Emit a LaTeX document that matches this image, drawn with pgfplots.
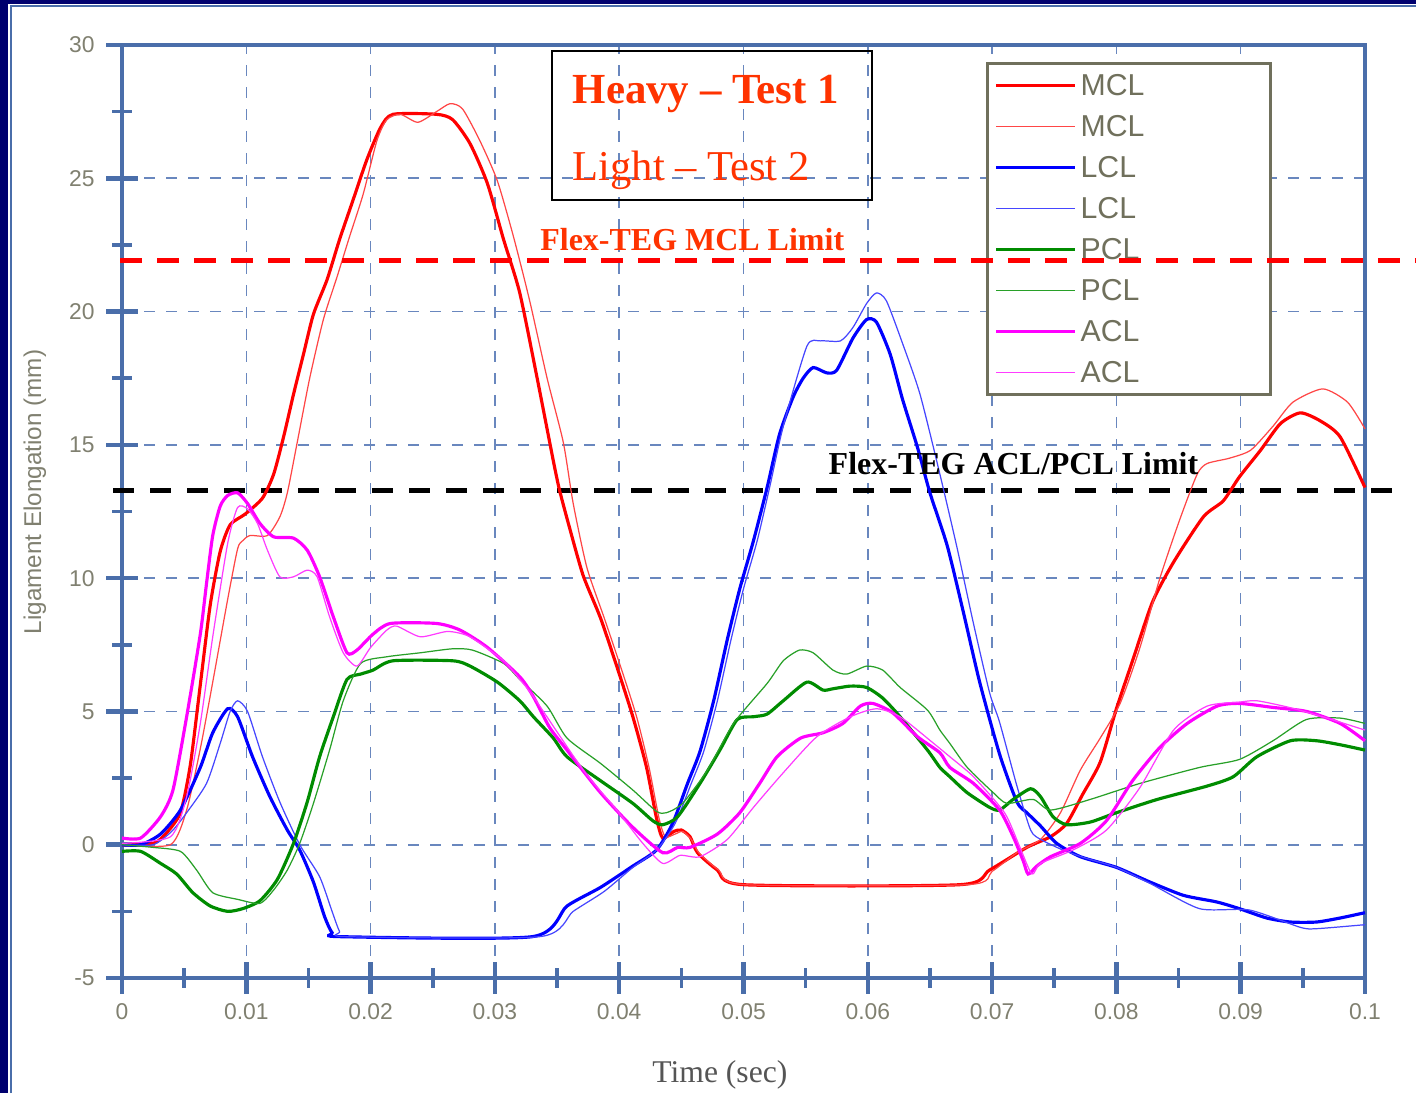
\documentclass[border=0pt]{standalone}
\usepackage{fontspec}
\setmainfont{Liberation Serif}
\newfontfamily\arial{Liberation Sans}
\usepackage{pgfplots}
\pgfplotsset{compat=1.18}
\definecolor{axisblue}{RGB}{74,110,170}
\definecolor{gridblue}{RGB}{105,135,190}
\definecolor{tickgray}{RGB}{128,128,112}
\definecolor{legendgray}{RGB}{112,112,92}
\definecolor{navy}{RGB}{0,0,110}
\definecolor{hlred}{RGB}{255,51,0}
\definecolor{mclA}{RGB}{255,0,0}
\definecolor{mclB}{RGB}{255,70,70}
\definecolor{lclA}{RGB}{0,0,255}
\definecolor{lclB}{RGB}{70,70,255}
\definecolor{pclA}{RGB}{0,140,0}
\definecolor{pclB}{RGB}{40,160,40}
\definecolor{aclA}{RGB}{255,0,255}
\definecolor{aclB}{RGB}{255,60,255}
\pgfplotsset{
  common/.style={
    width=12.43cm, height=9.33cm, scale only axis,
    at={(1.22cm,1.15cm)}, anchor=south west,
    xmin=0, xmax=100, ymin=-5, ymax=30,
  },
  thick line/.style={line width=0.9pt, smooth, tension=0.4},
  thin line/.style={line width=0.35pt, smooth, tension=0.4},
}
\begin{document}
\begin{tikzpicture}
\useasboundingbox (0,0) rectangle (14.16cm,10.93cm);
\begin{axis}[common,
  clip=false,
  xtick={0,10,20,30,40,50,60,70,80,90,100},
  xticklabels={0,0.01,0.02,0.03,0.04,0.05,0.06,0.07,0.08,0.09,0.1},
  ytick={-5,0,5,10,15,20,25,30},
  yticklabels={-5,0,5,10,15,20,25,30},
  minor x tick num=1, minor y tick num=1,
  tick align=center, tick pos=left,
  major tick length=0.32cm, minor tick length=0.2cm,
  tick style={axisblue},
  major tick style={line width=1.3pt},
  minor tick style={line width=1.0pt},
  axis line style={axisblue, line width=1.2pt},
  grid=major,
  major grid style={gridblue, line width=0.45pt, dash pattern=on 0.105cm off 0.115cm},
  ticklabel style={font=\fontsize{6.5}{7}\arial, text=tickgray},
  xticklabel style={yshift=0.03cm},
  yticklabel style={xshift=0.01cm},
  xlabel={Time (sec)},
  xlabel style={at={(axis description cs:0.481,-0.1035)}, anchor=center, font=\fontsize{9}{10}\selectfont, text={rgb,255:red,85;green,85;blue,85}},
  ylabel={Ligament Elongation (mm)},
  ylabel style={at={(axis description cs:-0.070,0.521)}, anchor=center, font=\fontsize{6.9}{8}\arial, text=tickgray},
  legend cell align=left,
  legend image code/.code={\draw[#1] (0cm,0cm) -- (0.79cm,0cm);},
  legend style={at={(axis cs:69.51,29.36)}, anchor=north west,
    draw=legendgray, line width=0.85pt, fill=white,
    inner xsep=0.07cm, inner ysep=0.07cm, row sep=0.11cm, column sep=0.04cm,
    font=\fontsize{8.6}{9}\arial, text=legendgray,
    nodes={inner sep=0pt, text height=0.25cm, text depth=0.05cm, text width=1.83cm, align=left}},
]
% limit line (ACL/PCL)
\addplot[forget plot, black, line width=1.4pt, dash pattern=on 0.21cm off 0.16cm] coordinates {(-0.7,13.3) (102.8,13.3)};

% MCL heavy
\addplot[mclA, thick line] coordinates {
(0,0) (2.5,0.05) (3.5,0.4) (4.7,1.2) (5.5,3.0) (6.3,6.0) (7.1,9.0) (7.9,11.0) (8.7,12.0) (9.9,12.4) (11.3,13.0) (12.2,13.9) (13.0,15.3) (13.8,16.9) (14.6,18.4) (15.4,19.9) (16.5,21.2) (17.5,22.7) (18.6,24.2) (19.7,25.7) (20.8,26.9) (21.8,27.4) (25.3,27.4) (26.6,27.2) (28.0,26.3) (29.4,24.8) (30.7,22.7) (32.0,20.7) (33.4,17.5) (34.7,14.4) (35.2,13.3) (36.0,11.9) (37.1,10.1) (38.5,8.5) (39.8,6.7) (41.1,4.8) (42.2,2.9) (43.0,1.0) (43.5,0.25) (44.4,0.5) (45.0,0.55) (45.7,0.3) (46.3,-0.3) (47.9,-0.95) (50.0,-1.5) (67.4,-1.5) (69.8,-0.95) (72.8,-0.1) (74.7,0.3) (76.0,0.8) (77.3,1.9) (78.7,3.1) (80.0,5.1) (81.3,6.9) (82.9,9.1) (84.6,10.6) (87.0,12.3) (88.6,12.9) (89.9,13.8) (91.6,14.8) (93.2,15.8) (94.8,16.2) (96.4,15.9) (98.0,15.3) (100,13.4)};
\addlegendentry{MCL}
% MCL light
\addplot[mclB, thin line] coordinates {
(0,0) (3.9,0) (5.2,1.3) (6.3,3.6) (7.3,6.1) (8.5,9.2) (9.3,11.1) (9.7,11.4) (10.3,11.6) (11.7,11.6) (12.7,12.3) (13.3,13.2) (14.1,15.1) (15.1,17.5) (16.2,19.7) (17.3,21.3) (18.3,22.8) (19.4,24.4) (20.5,26.4) (21.3,27.2) (22.4,27.4) (23.8,27.1) (25.3,27.5) (26.4,27.8) (27.4,27.6) (28.8,26.4) (30.2,24.9) (31.5,22.8) (32.8,20.4) (34.2,17.5) (35.5,15.1) (36.3,12.8) (37.4,10.4) (38.8,8.5) (40.1,6.7) (41.4,4.8) (42.4,2.9) (43.2,1.0) (43.7,0.3) (44.5,0.4) (45.1,0.5) (45.8,0.2) (46.4,-0.3) (48.0,-0.95) (50.1,-1.5) (68.0,-1.5) (70.0,-1.0) (72.0,-0.3) (73.9,0.2) (75.5,1.2) (77.1,2.8) (78.7,4.0) (80.3,5.3) (81.9,7.4) (83.5,10.0) (85.1,12.2) (86.5,13.9) (87.3,14.3) (89.1,14.5) (90.8,14.8) (92.6,15.7) (94.2,16.6) (96.6,17.1) (98.6,16.6) (100,15.6)};
\addlegendentry{MCL}
% LCL heavy
\addplot[lclA, thick line] coordinates {
(0,0) (1.5,0) (3.1,0.4) (4.7,1.3) (6.3,2.9) (7.3,4.2) (8.5,5.1) (9.3,4.8) (10.5,3.3) (11.9,1.8) (13.3,0.55) (14.3,-0.2) (15.4,-1.4) (16.3,-2.7) (16.9,-3.3) (17.6,-3.45) (33.0,-3.45) (35.8,-2.3) (38.5,-1.6) (41.1,-0.8) (43.0,-0.2) (44.3,0.8) (45.5,2.3) (46.5,3.5) (47.6,5.4) (48.7,7.7) (49.7,9.6) (50.8,11.4) (51.9,13.4) (52.9,15.4) (54.0,16.8) (54.8,17.5) (55.6,17.9) (56.7,17.7) (57.5,17.8) (58.8,19.0) (59.9,19.7) (60.7,19.6) (61.8,18.4) (62.8,16.7) (64.0,14.9) (65.0,13.2) (66.4,11.2) (67.7,8.7) (69.0,6.1) (70.6,3.4) (72.0,1.6) (72.8,1.2) (73.9,0.7) (75.2,0.05) (77.1,-0.45) (80.0,-0.85) (82.7,-1.4) (85.4,-1.9) (88.1,-2.15) (89.9,-2.4) (92.1,-2.75) (94.0,-2.9) (96.1,-2.9) (98.0,-2.75) (100,-2.55)};
\addlegendentry{LCL}
% LCL light
\addplot[lclB, thin line] coordinates {
(0,0) (2.5,0) (4.0,0.5) (5.2,1.2) (6.8,2.3) (7.9,3.8) (8.7,5.0) (9.3,5.4) (10.1,5.0) (11.3,3.3) (12.7,1.6) (14.3,0) (15.9,-1.2) (16.9,-2.5) (17.5,-3.25) (18.1,-3.45) (33.6,-3.45) (36.3,-2.5) (38.8,-1.75) (41.1,-0.85) (43.0,-0.2) (44.5,0.8) (45.8,2.3) (46.8,3.5) (47.9,5.4) (49.0,7.7) (50.0,9.6) (51.1,11.4) (52.1,13.4) (53.2,15.7) (55.1,18.7) (56.2,18.9) (57.8,18.9) (58.8,19.4) (59.9,20.3) (60.7,20.7) (61.5,20.4) (62.8,18.8) (64.2,16.9) (65.8,13.9) (67.2,11.1) (68.5,8.3) (69.8,5.7) (70.6,4.6) (72.0,2.2) (73.1,0.55) (73.9,0.2) (75.7,-0.2) (77.5,-0.5) (80.0,-0.85) (82.7,-1.45) (86.7,-2.4) (90.7,-2.45) (94.8,-3.1) (96.1,-3.15) (100,-3.0)};
\addlegendentry{LCL}
% PCL heavy
\addplot[pclA, thick line] coordinates {
(0,-0.25) (1.5,-0.25) (3.1,-0.7) (4.4,-1.1) (5.7,-1.8) (7.1,-2.3) (8.5,-2.5) (9.7,-2.4) (11.1,-2.1) (12.5,-1.3) (13.8,0.05) (14.9,1.6) (15.9,3.3) (17.0,4.8) (18.1,6.2) (19.2,6.4) (20.2,6.55) (21.8,6.9) (26.6,6.9) (28.0,6.7) (30.2,6.1) (32.0,5.4) (33.1,4.8) (34.7,4.0) (35.8,3.3) (38.5,2.4) (41.1,1.55) (42.7,0.9) (43.5,0.75) (44.7,1.05) (46.5,2.3) (48.1,3.55) (49.5,4.7) (50.8,4.8) (51.9,4.9) (53.2,5.4) (55.1,6.1) (56.4,5.8) (57.2,5.85) (58.6,5.95) (59.9,5.9) (61.2,5.5) (62.6,4.8) (64.8,3.55) (65.8,2.9) (66.6,2.55) (68.0,1.95) (69.8,1.4) (70.6,1.3) (71.7,1.7) (73.1,2.1) (73.9,1.8) (74.9,1.05) (76.0,0.75) (77.9,0.85) (80.0,1.2) (83.3,1.7) (87.3,2.2) (89.4,2.55) (91.3,3.3) (94.0,3.9) (96.1,3.9) (98.0,3.75) (100,3.55)};
\addlegendentry{PCL}
% PCL light
\addplot[pclB, thin line] coordinates {
(0,0) (2.5,-0.1) (4.7,-0.25) (6.0,-0.95) (7.3,-1.8) (9.3,-2.05) (11.1,-2.2) (12.2,-1.7) (13.3,-0.95) (14.3,0.05) (15.4,1.55) (16.7,3.55) (17.8,5.4) (19.2,6.8) (21.3,7.05) (24.0,7.2) (26.6,7.35) (28.2,7.3) (30.7,6.8) (32.0,6.2) (34.2,5.2) (35.8,4.0) (38.5,3.05) (41.1,2.05) (43.0,1.25) (43.8,1.2) (45.1,1.55) (47.1,2.8) (49.2,4.55) (51.9,6.05) (53.2,6.9) (54.5,7.3) (55.6,7.2) (57.2,6.55) (58.3,6.4) (59.9,6.7) (61.2,6.55) (62.6,5.9) (64.8,5.05) (65.8,4.3) (66.6,3.8) (68.0,2.9) (70.1,1.95) (71.2,1.55) (73.3,1.7) (74.7,1.3) (77.9,1.7) (81.9,2.3) (86.7,2.9) (89.9,3.2) (92.6,3.9) (95.3,4.7) (98.0,4.75) (100,4.55)};
\addlegendentry{PCL}
% ACL heavy
\addplot[aclA, thick line] coordinates {
(0,0.25) (1.5,0.25) (3.1,1.05) (4.1,2.05) (5.2,4.8) (6.3,7.9) (6.8,9.8) (7.3,11.6) (7.9,12.7) (8.5,13.1) (9.3,13.2) (10.1,12.8) (11.1,12.05) (12.2,11.55) (13.8,11.5) (14.9,11.05) (15.9,10.05) (17.0,8.55) (18.1,7.2) (18.9,7.3) (20.2,7.9) (21.6,8.3) (25.3,8.3) (27.2,8.05) (29.4,7.4) (32.0,6.3) (33.1,5.55) (34.4,4.4) (35.8,3.55) (38.5,1.95) (41.1,0.65) (43.5,-0.3) (44.7,-0.1) (45.7,-0.1) (47.9,0.4) (49.7,1.2) (51.3,2.3) (52.7,3.3) (54.6,4.0) (56.4,4.2) (58.0,4.55) (59.4,5.2) (60.4,5.3) (62.0,4.95) (64.0,4.05) (65.8,3.45) (66.6,2.9) (68.5,2.3) (70.6,1.3) (71.7,0.3) (72.5,-0.6) (72.9,-1.1) (73.6,-0.8) (74.7,-0.45) (77.1,0.05) (79.2,0.9) (81.3,2.4) (83.5,3.65) (85.7,4.55) (88.1,5.2) (89.9,5.3) (92.6,5.15) (95.3,5.0) (98.0,4.55) (100,3.9)};
\addlegendentry{ACL}
% ACL light
\addplot[aclB, thin line] coordinates {
(0,0.05) (3.9,0.3) (5.2,1.8) (6.3,4.55) (7.3,7.8) (8.5,11.3) (9.3,12.65) (10.1,12.6) (10.9,12.05) (11.7,11.05) (12.7,10.05) (13.8,10.05) (14.9,10.3) (15.7,10.05) (16.7,8.55) (17.8,7.2) (18.9,6.7) (20.0,7.4) (21.3,8.05) (22.1,8.2) (24.0,7.8) (26.2,8.0) (28.0,7.8) (30.7,6.9) (32.0,6.2) (33.1,5.55) (37.1,2.8) (39.8,1.3) (41.9,0.05) (43.5,-0.7) (44.9,-0.4) (46.5,-0.45) (48.7,0.2) (50.8,1.4) (53.2,2.7) (55.9,4.05) (58.6,4.8) (60.7,5.1) (62.6,4.8) (65.3,3.8) (66.6,3.3) (68.5,2.55) (71.0,1.2) (72.2,-0.05) (73.2,-1.1) (73.9,-0.7) (76.5,-0.2) (79.2,0.55) (81.9,2.15) (84.6,4.3) (87.3,5.2) (89.9,5.35) (91.3,5.4) (93.9,5.15) (96.6,4.8) (100,4.3)};
\addlegendentry{ACL}

% annotations
\draw[black, line width=0.6pt] (axis cs:34.59,29.77) rectangle (axis cs:60.34,24.18);
\node[anchor=base west, inner sep=0pt, text=hlred, font=\fontsize{12.2}{13}\selectfont\bfseries] at (axis cs:36.2,27.8) {Heavy – Test 1};
\node[anchor=base west, inner sep=0pt, text=hlred, font=\fontsize{12.1}{13}\selectfont] at (axis cs:36.2,24.9) {Light – Test 2};
\node[anchor=base west, inner sep=0pt, text=hlred, font=\fontsize{9.1}{10}\selectfont\bfseries] at (axis cs:33.6,22.3) {Flex-TEG MCL Limit};
\node[anchor=base west, inner sep=0pt, text=black, font=\fontsize{9.1}{10}\selectfont\bfseries] at (axis cs:56.8,13.9) {Flex-TEG ACL/PCL Limit};
\end{axis}
\begin{axis}[common, hide axis, clip=false]
\addplot[mclA, line width=1.5pt, dash pattern=on 0.22cm off 0.15cm] coordinates {(-0.16,21.92) (104.1,21.92)};
\end{axis}
\fill[navy] (0,0) rectangle (0.08cm,10.93cm);
\fill[navy] (0,10.89cm) rectangle (14.16cm,10.93cm);
\draw[axisblue, line width=0.6pt] (0.11cm,0) -- (0.11cm,10.87cm) -- (14.16cm,10.87cm);
\end{tikzpicture}
\end{document}
